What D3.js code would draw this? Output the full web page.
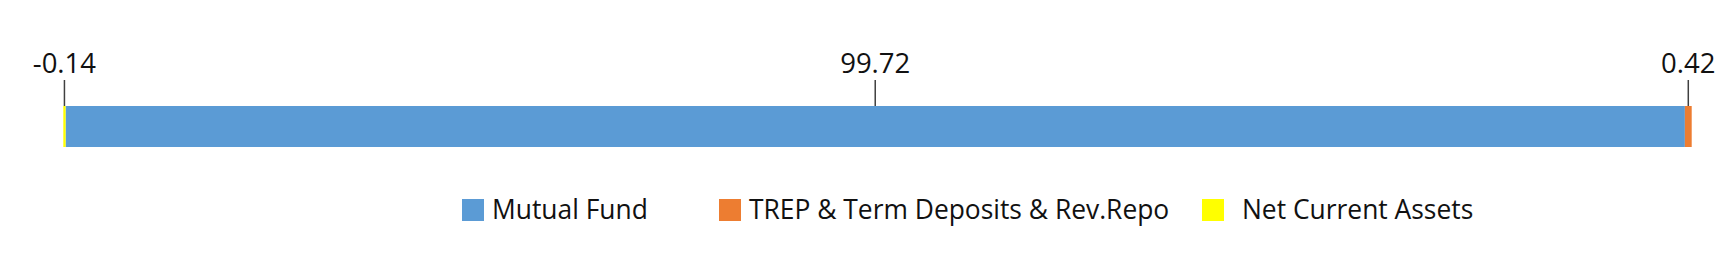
<!DOCTYPE html>
<html>
<head>
<meta charset="utf-8">
<script src="https://cdn.jsdelivr.net/npm/d3@7"></script>
<style>
  body { margin: 0; background: #fff; }
  svg { display: block; font-family: "Open Sans", "Noto Sans", sans-serif; }
</style>
</head>
<body>
<script>
// asset allocation, one stacked bar
let categories = ["Mutual Fund", "TREP & Term Deposits & Rev.Repo", "Net Current Assets"];
let values = [99.72, 0.42, -0.14];
let labels = ["99.72", "0.42", "-0.14"];
let colors = ["#5B9BD5", "#ED7D31", "#FFFF00"];

let w = 1734;
let h = 256;

let svg = d3.select("body")
    .append("svg")
    .attr("width", w)
    .attr("height", h);

// stack: positives go right from 0, negatives go left from 0
let pos = 0, neg = 0;
let segs = values.map(function(v, i) {
    let s;
    if (v >= 0) { s = { x0: pos, x1: pos + v }; pos += v; }
    else { s = { x0: neg + v, x1: neg }; neg += v; }
    s.i = i;
    return s;
});

let xScale = d3.scaleLinear()
    .domain([neg, pos])
    .range([63.3, 1691.7]);

let barTop = 106, barH = 41;

svg.selectAll("rect.seg")
    .data(segs)
    .enter()
    .append("rect")
    .attr("class", "seg")
    .attr("x", function(d) { return xScale(d.x0); })
    .attr("width", function(d) { return xScale(d.x1) - xScale(d.x0); })
    .attr("y", barTop)
    .attr("height", barH)
    .attr("fill", function(d) { return colors[d.i]; });

// leader ticks + data labels above segment centres
svg.selectAll("line.lead")
    .data(segs)
    .enter()
    .append("line")
    .attr("class", "lead")
    .attr("x1", function(d) { return xScale((d.x0 + d.x1) / 2); })
    .attr("x2", function(d) { return xScale((d.x0 + d.x1) / 2); })
    .attr("y1", 80)
    .attr("y2", barTop)
    .attr("stroke", "#404040")
    .attr("stroke-width", 1.5);

svg.selectAll("text.lbl")
    .data(segs)
    .enter()
    .append("text")
    .attr("class", "lbl")
    .attr("x", function(d) { return xScale((d.x0 + d.x1) / 2); })
    .attr("y", 72.5)
    .attr("text-anchor", "middle")
    .attr("font-size", "27.5px")
    .attr("fill", "#111")
    .text(function(d) { return labels[d.i]; });

// legend
let legendX = [462, 719, 1202];
let lg = svg.selectAll("g.leg")
    .data(categories)
    .enter()
    .append("g")
    .attr("class", "leg")
    .attr("transform", function(d, i) { return "translate(" + legendX[i] + ",199)"; });

lg.append("rect")
    .attr("width", 22)
    .attr("height", 22)
    .attr("fill", function(d, i) { return colors[i]; });

lg.append("text")
    .attr("x", function(d, i) { return i == 2 ? 40 : 30; })
    .attr("y", 20)
    .attr("font-size", "26.4px")
    .attr("fill", "#111")
    .text(function(d) { return d; });
</script>
</body>
</html>
